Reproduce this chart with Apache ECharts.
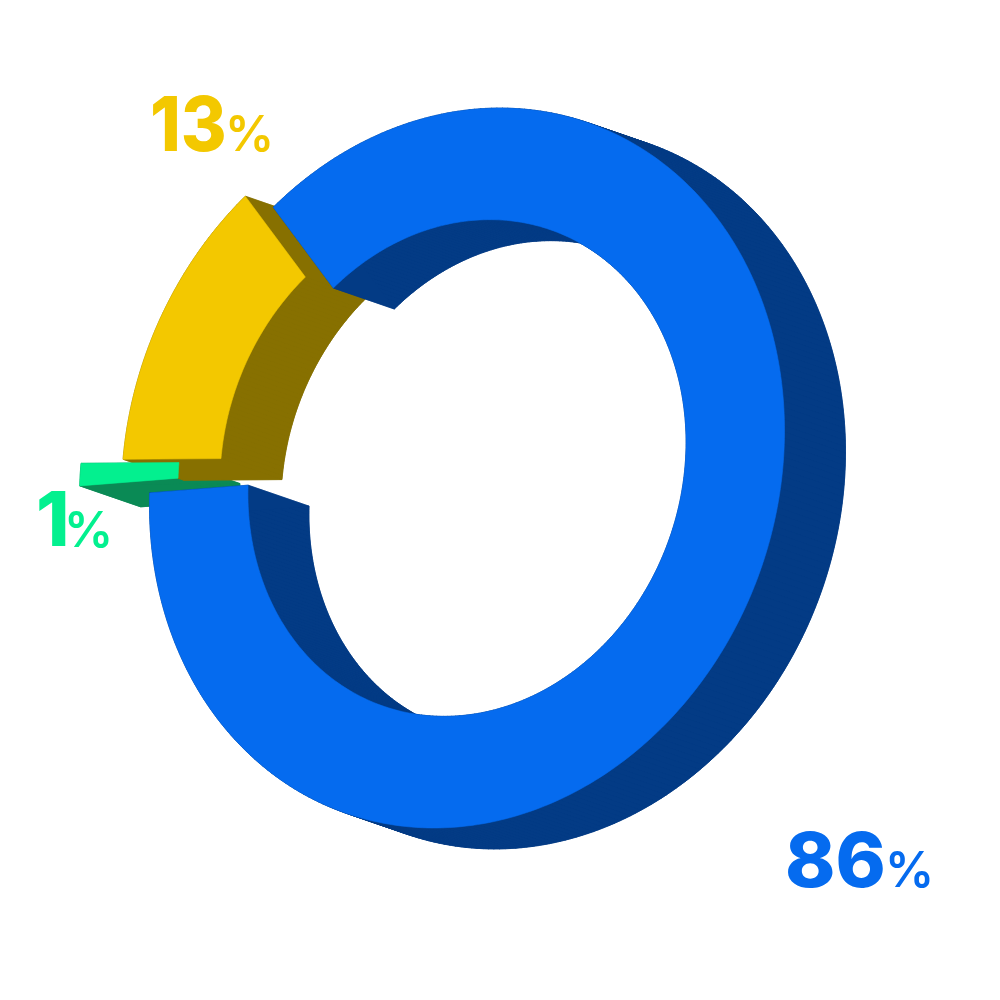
<!DOCTYPE html>
<html>
<head>
<meta charset="utf-8">
<style>html,body{margin:0;padding:0;background:#fff}#c{width:1000px;height:1000px}</style>
<script src="https://cdn.jsdelivr.net/npm/echarts@6/dist/echarts.min.js"></script>
</head>
<body>
<div id="c"></div>
<script>
// Data
const categories = ['Blue', 'Green', 'Yellow'];
const percentValues = [86, 1, 13];

// Appearance
const frontColors = ['#056bef', '#03f08f', '#f3c800'];
const sideColors = ['#033b85', '#0a8a55', '#877000'];
const sideLayer = [3, 1, 2];
const explode = [[0, 0], [-70, -7], [-28, -11]];
const digitAt = [[785, 889], [36, 548], [150, 153]];
const digitScale = [1.0, 1.0, 0.92];
const percentAt = [[885, 889], [64, 549], [225, 153]];
const digitFontSize = 76, percentFontSize = 49;
const view = {cx: 467, cy: 468, rx: 317.5, skew: -37.4, ry: 358, inner: 0.69, depth: [61, 21], startDeg: 232.4};

const total = percentValues.reduce((a, b) => a + b, 0);
const sweeps = [];
let running = view.startDeg;
percentValues.forEach(v => {
  const s = v / total * 360;
  sweeps.push([running, running + s]);
  running += s;
});

function pt(deg, r, off) {
  const t = deg * Math.PI / 180;
  return [
    view.cx + r * view.rx * Math.cos(t) + off[0],
    view.cy + r * (view.skew * Math.cos(t) + view.ry * Math.sin(t)) + off[1]
  ];
}
function arc(a, b, r, off) {
  const n = Math.max(2, Math.ceil(b - a));
  const out = [];
  for (let i = 0; i <= n; i++) out.push(pt(a + (b - a) * i / n, r, off));
  return out;
}
function poly(points, color, z2) {
  return {type: 'polygon', z2: z2 || 0, shape: {points}, style: {fill: color, stroke: color, lineWidth: 0.6}};
}
function ringPoly(a, b, off, color, z2) {
  return poly(arc(a, b, 1, off).concat(arc(a, b, view.inner, off).reverse()), color, z2);
}

function renderSides(params) {
  const i = params.dataIndex;
  const [a, b] = sweeps[i];
  const o = explode[i];
  const back = [o[0] + view.depth[0], o[1] + view.depth[1]];
  const color = sideColors[i], z2 = sideLayer[i];
  const children = [ringPoly(a, b, back, color, z2)];
  [1, view.inner].forEach(r => {
    const f = arc(a, b, r, o), g = arc(a, b, r, back);
    for (let k = 0; k < f.length - 1; k++) {
      children.push(poly([f[k], f[k + 1], g[k + 1], g[k]], color, z2));
    }
  });
  [a, b].forEach(d => {
    children.push(poly([pt(d, 1, o), pt(d, view.inner, o), pt(d, view.inner, back), pt(d, 1, back)], color, z2));
  });
  return {type: 'group', children};
}
function renderFronts(params) {
  const i = params.dataIndex;
  const [a, b] = sweeps[i];
  return ringPoly(a, b, explode[i], frontColors[i]);
}
function renderLabels(params) {
  const i = params.dataIndex;
  const color = frontColors[i];
  return {
    type: 'group',
    children: [
      {
        type: 'text', x: digitAt[i][0], y: digitAt[i][1] + 13, scaleX: digitScale[i],
        originX: 0,
        style: {text: String(percentValues[i]), align: 'left', verticalAlign: 'bottom',
                fontFamily: 'Inter', fontWeight: 800, fontSize: digitFontSize, fill: color}
      },
      {
        type: 'text', x: percentAt[i][0], y: percentAt[i][1] + 8,
        style: {text: '%', align: 'left', verticalAlign: 'bottom',
                fontFamily: 'Inter', fontWeight: 600, fontSize: percentFontSize, fill: color}
      }
    ]
  };
}

const rows = categories.map((c, i) => ({name: c, value: percentValues[i]}));
const chart = echarts.init(document.getElementById('c'), null, {renderer: 'canvas'});
chart.setOption({
  animation: false,
  backgroundColor: '#fff',
  series: [
    {type: 'custom', coordinateSystem: 'none', data: rows, renderItem: renderSides, silent: true, z: 1},
    {type: 'custom', coordinateSystem: 'none', data: rows, renderItem: renderFronts, silent: true, z: 2},
    {type: 'custom', coordinateSystem: 'none', data: rows, renderItem: renderLabels, silent: true, z: 3}
  ]
});
</script>
</body>
</html>
